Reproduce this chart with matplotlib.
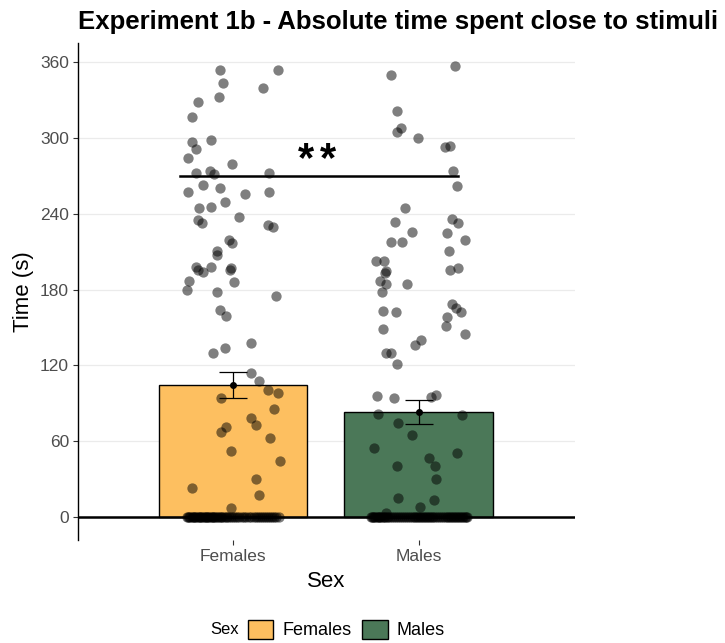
import matplotlib.pyplot as plt
from matplotlib.patches import Patch

plt.rcParams['font.family'] = ['Liberation Sans', 'DejaVu Sans']

groups = ["Females", "Males"]
bar_means = [104.4, 83.1]
bar_se = [10.5, 9.5]
bar_colors = ["#FDBF60", "#4B7858"]

# females, non-zero observations (x = jittered position, y = seconds)
fem_x = [0.93, 1.244, 0.948, 1.163, 0.926, 0.813, 0.778, 0.781, 0.882, 0.80, 0.76, 0.993,
         0.80, 0.876, 0.898, 1.195, 0.84, 0.93, 0.76, 1.066, 1.194, 0.957, 0.82, 0.88,
         0.813, 0.832, 1.034, 1.187, 1.217, 0.98, 0.993, 0.912, 0.916, 0.80, 0.813, 0.84,
         0.882, 0.988, 0.984, 0.765, 1.005, 0.754, 0.912, 1.231, 0.93, 0.961, 1.10, 0.957,
         0.891, 1.10, 1.141, 0.934, 1.19, 1.244, 1.22, 1.097, 1.122, 0.962, 0.934, 1.199,
         0.988, 1.253, 1.124, 0.781, 1.14, 0.988]
fem_y = [353.6, 353.6, 343.1, 339.7, 332.5, 328.6, 316.7, 296.9, 298.3, 290.9, 283.7, 279.0,
         272.4, 273.7, 271.1, 272.4, 262.7, 260.0, 257.4, 255.5, 257.4, 249.5, 244.2, 245.5,
         235.0, 232.9, 237.1, 231.0, 229.7, 219.1, 216.5, 210.7, 207.3, 198.0, 195.4, 194.1,
         198.0, 197.4, 195.4, 187.0, 185.9, 179.6, 178.3, 174.8, 163.8, 159.3, 137.4, 134.0,
         129.5, 114.2, 107.6, 94.4, 100.5, 97.8, 85.2, 78.1, 72.8, 71.4, 67.5, 62.7,
         52.5, 44.3, 29.8, 22.7, 17.2, 6.9]
# females with 0 s, jittered positions
fem_zero_x = [0.752, 0.758, 0.766, 0.771, 0.779, 0.785, 0.79, 0.797, 0.803, 0.81, 0.816,
              0.822, 0.829, 0.835, 0.842, 0.848, 0.853, 0.861, 0.867, 0.874, 0.88, 0.886,
              0.893, 0.899, 0.905, 0.913, 0.92, 0.928, 0.936, 0.944, 0.953, 0.962, 0.971,
              0.98, 0.99, 1.0, 1.011, 1.022, 1.035, 1.047, 1.06, 1.073, 1.087, 1.1, 1.112,
              1.124, 1.135, 1.146, 1.157, 1.168, 1.178, 1.188, 1.198, 1.208, 1.219, 1.232, 1.246]

# males, non-zero observations
male_x = [2.194, 1.848, 1.88, 1.903, 1.88, 1.995, 2.14, 2.167, 2.184, 2.203, 1.925, 1.871,
          2.179, 2.211, 1.964, 2.151, 2.247, 1.848, 1.912, 2.163, 1.769, 1.812, 1.823, 1.817,
          2.17, 2.211, 1.79, 1.826, 1.937, 1.803, 2.176, 2.199, 2.226, 1.808, 1.875, 2.154,
          1.808, 2.145, 2.247, 2.014, 1.978, 1.823, 1.848, 1.88, 1.773, 1.866, 2.068, 2.095,
          1.778, 2.233, 1.889, 1.966, 1.76, 2.208, 2.054, 2.088, 1.88, 2.09, 1.889, 2.08,
          2.005, 1.823]
male_y = [357.0, 349.4, 320.9, 307.5, 304.3, 299.6, 292.5, 293.8, 274.0, 261.9, 244.7, 233.1,
          235.8, 232.3, 225.2, 224.9, 219.6, 217.3, 217.8, 210.7, 202.8, 202.8, 194.9, 192.8,
          195.4, 196.7, 186.7, 184.3, 184.3, 177.8, 168.3, 165.1, 162.0, 163.0, 162.0, 158.0,
          148.7, 151.1, 144.5, 140.0, 136.1, 129.5, 129.5, 121.0, 95.7, 94.4, 94.7, 96.5,
          81.3, 80.5, 74.1, 64.9, 54.8, 50.4, 46.9, 40.6, 40.6, 29.8, 15.3, 13.4,
          8.1, 3.4]
male_zero_x = [1.742, 1.748, 1.755, 1.76, 1.767, 1.773, 1.779, 1.786, 1.792, 1.799, 1.806,
               1.813, 1.82, 1.828, 1.836, 1.845, 1.855, 1.866, 1.878, 1.889, 1.9, 1.91,
               1.921, 1.932, 1.944, 1.955, 1.965, 1.974, 1.982, 1.99, 1.998, 2.006, 2.014,
               2.022, 2.03, 2.038, 2.046, 2.054, 2.062, 2.07, 2.078, 2.087, 2.097, 2.108,
               2.119, 2.13, 2.14, 2.149, 2.158, 2.166, 2.174, 2.182, 2.19, 2.198, 2.206,
               2.214, 2.222, 2.23, 2.238, 2.246, 2.253, 2.26]

sig_pair = [0.715, 2.21]
sig_y = 269.8
sig_label_x = [1.395, 1.51]

fig = plt.figure(figsize=(7.25, 6.43), dpi=100)
ax = fig.add_axes([0.1076, 0.160, 0.6855, 0.773])

ax.set_axisbelow(True)
ax.yaxis.grid(True, color="#EBEBEB", linewidth=0.9)

pos = [1, 2]
ax.bar(pos, bar_means, width=0.8, color=bar_colors, edgecolor="black", linewidth=1.0, zorder=2)
ax.axhline(0, color="black", linewidth=1.8, zorder=3)

pt = dict(s=55, color="black", alpha=0.5, linewidths=0, zorder=4)
ax.scatter(fem_x, fem_y, **pt)
ax.scatter(fem_zero_x, [0] * len(fem_zero_x), **pt)
ax.scatter(male_x, male_y, **pt)
ax.scatter(male_zero_x, [0] * len(male_zero_x), **pt)

ax.errorbar(pos, bar_means, yerr=bar_se, fmt="o", color="black", markersize=4,
            capsize=10, elinewidth=0.9, capthick=0.9, zorder=5)

ax.plot(sig_pair, [sig_y, sig_y], color="black", linewidth=1.8, zorder=5)
for sx in sig_label_x:
    ax.text(sx, sig_y + 4, "*", ha="center", va="baseline",
            fontsize=30, fontweight="bold", zorder=6)

ax.set_xlim(0.167, 2.84)
ax.set_ylim(-18.2, 375)
ax.set_yticks(range(0, 361, 60))
ax.set_xticks(pos)
ax.set_xticklabels(groups)

for side in ["top", "right", "bottom"]:
    ax.spines[side].set_visible(False)
ax.spines["left"].set_linewidth(1.0)
ax.tick_params(axis="both", colors="#333333", labelcolor="#4D4D4D", labelsize=12.5,
               length=3.5, width=0.8, pad=3)

ax.set_xlabel("Sex", fontsize=16, labelpad=5)
ax.set_ylabel("Time (s)", fontsize=16, labelpad=4)

fig.text(0.1076, 0.966, "Experiment 1b - Absolute time spent close to stimuli",
         ha="left", va="center", fontsize=18.5, fontweight="bold")

handles = [Patch(facecolor=c, edgecolor="black", linewidth=1.0) for c in bar_colors]
fig.text(0.33, 0.021, "Sex", fontsize=12, ha="right", va="center")
fig.legend(handles, groups, loc="center", bbox_to_anchor=(0.478, 0.021), ncol=2,
           frameon=False, fontsize=13, handlelength=1.4, handleheight=1.3,
           handletextpad=0.5, columnspacing=0.6, borderpad=0)

fig.savefig("out.png", dpi=100)
